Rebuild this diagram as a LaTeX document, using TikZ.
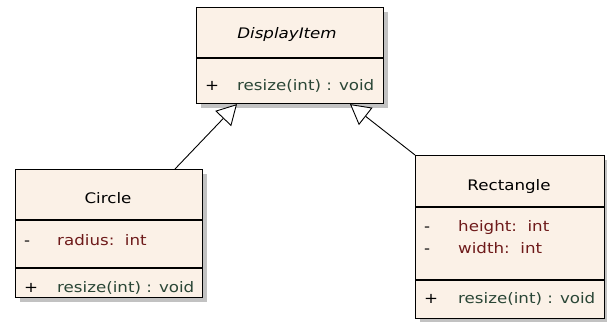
\documentclass[tikz,border=0pt]{standalone}
\usepackage{fontspec}
\setmainfont{DejaVu Sans}[FakeStretch=1.15]
\usetikzlibrary{arrows.meta,shadows,calc}
\definecolor{classfill}{HTML}{FBF1E7}
\definecolor{attrcol}{HTML}{6E1A1A}
\definecolor{opcol}{HTML}{2A4636}
\begin{document}
\begin{tikzpicture}[x=1pt,y=-1pt,
  classbox/.style={draw=black, line width=1.1pt, fill=classfill, rectangle,
    inner sep=0pt, anchor=north west,
    drop shadow={shadow xshift=4pt, shadow yshift=-4pt, fill=black!40, opacity=0.6}},
  txt/.style={inner sep=0pt, font=\fontsize{14.5}{17}\selectfont},
  cname/.style={txt, anchor=base, text=black},
  vis/.style={txt, anchor=base west, text=black},
  attr/.style={txt, anchor=base west, text=attrcol},
  oper/.style={txt, anchor=base west, text=opcol},
  divider/.style={draw=black, line width=1.1pt},
  gen/.style={draw=black, line width=0.9pt,
    -{Triangle[length=20pt, width=22pt, fill=white, line width=0.9pt]}}
]
\useasboundingbox (0,0) rectangle (607,321);

% DisplayItem
\node[classbox, minimum width=187pt, minimum height=96pt] (disp) at (196,7) {};
\draw[divider] ($(disp.north west)+(0,51)$) -- ($(disp.north east)+(0,51)$);
\node[cname, font=\fontsize{14.5}{17}\selectfont\itshape] (dispname) at (287,39) {DisplayItem};
\node[vis] (dispopv) at (205,90) {+};
\node[oper] (dispop) at (237,90) {resize(int) : void};

% Circle
\node[classbox, minimum width=187pt, minimum height=128pt] (circ) at (15,169) {};
\draw[divider] ($(circ.north west)+(0,51)$) -- ($(circ.north east)+(0,51)$);
\draw[divider] ($(circ.north west)+(0,99)$) -- ($(circ.north east)+(0,99)$);
\node[cname] (circname) at (108,203) {Circle};
\node[vis] (circav) at (24,245) {-};
\node[attr] (circattr) at (57,245) {radius:\ \ int};
\node[vis] (circopv) at (24,292) {+};
\node[oper] (circop) at (57,292) {resize(int) : void};

% Rectangle
\node[classbox, minimum width=189pt, minimum height=163pt] (rect) at (415,155) {};
\draw[divider] ($(rect.north west)+(0,52)$) -- ($(rect.north east)+(0,52)$);
\draw[divider] ($(rect.north west)+(0,125)$) -- ($(rect.north east)+(0,125)$);
\node[cname] (rectname) at (509,190) {Rectangle};
\node[vis] (rectav1) at (424,231) {-};
\node[attr] (rectattr1) at (458,231) {height:\ \ int};
\node[vis] (rectav2) at (424,253) {-};
\node[attr] (rectattr2) at (458,253) {width:\ \ int};
\node[vis] (rectopv) at (424,303) {+};
\node[oper] (rectop) at (458,303) {resize(int) : void};

% generalisations
\draw[gen] ($(circ.north west)+(160,0)$) -- ($(disp.south west)+(41,0)$);
\draw[gen] (rect.north west) -- ($(disp.south west)+(154,0)$);
\end{tikzpicture}
\end{document}
